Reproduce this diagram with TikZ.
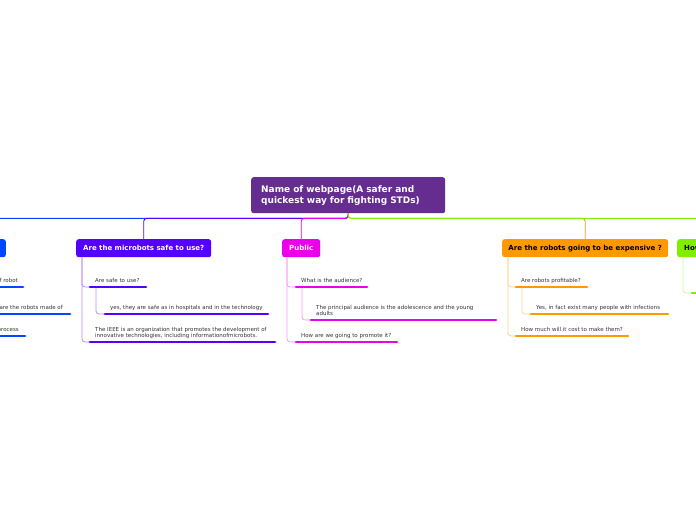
\documentclass[tikz,border=0pt]{standalone}
\usepackage{fontspec}
\setmainfont{DejaVu Sans}
\usetikzlibrary{positioning}
\definecolor{rootc}{RGB}{102,45,145}
\definecolor{bluec}{RGB}{0,72,255}
\definecolor{purplec}{RGB}{85,0,255}
\definecolor{magc}{RGB}{234,0,234}
\definecolor{orangec}{RGB}{255,153,0}
\definecolor{greenc}{RGB}{128,238,0}

\begin{document}
\begin{tikzpicture}[x=1pt, y=-1pt,
  topic/.style={rounded corners=2.5pt, inner sep=0pt, minimum height=18pt, anchor=north west,
    text=white, font=\fontsize{7}{8}\selectfont\bfseries},
  item/.style={anchor=base west, inner sep=0pt, text=black!80, align=left,
    font=\fontsize{5.5}{6.3}\selectfont},
  bar/.style={line width=2.8pt, line cap=round},
  bus/.style={line width=0.9pt, rounded corners=3pt},
  link/.style={line width=0.8pt, rounded corners=3pt}]
  \useasboundingbox (0,0) rectangle (696,520);
  \clip (0,0) rectangle (696,520);

  % central topic and main branches
  \node[topic, fill=rootc, minimum width=194pt, minimum height=36pt, text width=174pt,
    inner xsep=10pt, align=left, font=\fontsize{9}{11}\selectfont\bfseries]
    (root) at (251,177) {Name of webpage(A safer and\\quickest way for fighting STDs)};
  \node[topic, fill=bluec, minimum width=80pt, anchor=north east] (kind) at (6,239) {};
  \node[topic, fill=purplec, minimum width=135pt] (safe) at (76,239) {Are the microbots safe to use?};
  \node[topic, fill=magc, minimum width=38pt] (pub) at (282,239) {Public};
  \node[topic, fill=orangec, text=black, minimum width=166pt] (cost) at (502,239) {Are the robots going to be expensive ?};
  \node[topic, fill=greenc, text=black, minimum width=80pt, text width=66pt, inner xsep=7pt, align=left]
    (how) at (677,239) {How};

  \draw[bus, bluec] (root.south) -- ++(0,5) -| ([xshift=-40pt]kind.north);
  \draw[bus, purplec] (root.south) -- ++(0,5) -| (safe.north);
  \draw[bus, magc] (root.south) -- ++(0,5) -| (pub.north);
  \draw[bus, orangec] (root.south) -- ++(0,5) -| (cost.north);
  \draw[bus, greenc] (root.south) -- ++(0,5) -| (how.north);

  % left branch (cut by the page edge)
  \node[item, anchor=base east] (k1) at (18,282) {f robot};
  \node[item, anchor=base east] (k2) at (63,309) {are the robots made of};
  \node[item, anchor=base east] (k3) at (19,331) {process};
  \draw[bar, bluec] (-60,287) -- (23,287);
  \draw[bar, bluec] (-60,314) -- (70,314);
  \draw[bar, bluec] (-60,336) -- (25,336);

  % safety
  \coordinate (s1a) at (90,287);
  \coordinate (s11a) at (105,314);
  \coordinate (s2a) at (90,342);
  \node[item] (s1) at (95,282) {Are safe to use?};
  \node[item] (s11) at (110,309) {yes, they are safe as in hospitals and in the technology};
  \node[item] (s2) at (95,337.5) {The IEEE is an organization that promotes the development of\\innovative technologies, including informationofmicrobots.};
  \draw[link, purplec!45] ([xshift=6pt]safe.south west) |- (s1a);
  \draw[link, purplec!45] ([xshift=6pt]safe.south west) |- (s2a);
  \draw[link, purplec!45] ([xshift=6pt]s1a) |- (s11a);
  \draw[bar, purplec] (s1a) -- (146,287);
  \draw[bar, purplec] (s11a) -- (268,314);
  \draw[bar, purplec] (s2a) -- (275,342);

  % public
  \coordinate (p1a) at (296,287);
  \coordinate (p11a) at (311,320);
  \coordinate (p2a) at (296,342);
  \node[item] (p1) at (301,282) {What is the audience?};
  \node[item] (p11) at (316,315.5) {The principal audience is the adolescence and the young\\adults};
  \node[item] (p2) at (301,337) {How are we going to promote it?};
  \draw[link, magc!40] ([xshift=5pt]pub.south west) |- (p1a);
  \draw[link, magc!40] ([xshift=5pt]pub.south west) |- (p2a);
  \draw[link, magc!40] ([xshift=6pt]p1a) |- (p11a);
  \draw[bar, magc] (p1a) -- (367,287);
  \draw[bar, magc] (p11a) -- (496,320);
  \draw[bar, magc] (p2a) -- (397,342);

  % cost
  \coordinate (o1a) at (516,287);
  \coordinate (o11a) at (531,314);
  \coordinate (o2a) at (516,336);
  \node[item] (o1) at (521,282) {Are robots profitable?};
  \node[item] (o11) at (536,309) {Yes, in fact exist many people with infections};
  \node[item] (o2) at (521,331) {How much will it cost to make them?};
  \draw[link, orangec!45] ([xshift=6pt]cost.south west) |- (o1a);
  \draw[link, orangec!45] ([xshift=6pt]cost.south west) |- (o2a);
  \draw[link, orangec!45] ([xshift=6pt]o1a) |- (o11a);
  \draw[bar, orangec] (o1a) -- (587,287);
  \draw[bar, orangec] (o11a) -- (668,314);
  \draw[bar, orangec] (o2a) -- (628,336);

  % how (cut by the page edge)
  \coordinate (h1a) at (692,293);
  \draw[link, greenc!40] ([xshift=6pt]how.south west) |- (h1a);
  \draw[bar, greenc] (h1a) -- (760,293);
\end{tikzpicture}
\end{document}
